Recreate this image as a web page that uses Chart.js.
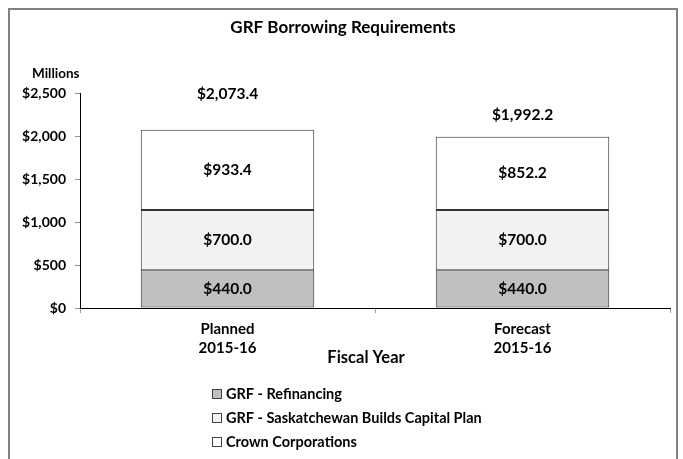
<!DOCTYPE html>
<html>
<head>
<meta charset="utf-8">
<script src="https://cdn.jsdelivr.net/npm/chart.js@4.4.0/dist/chart.umd.min.js"></script>
<style>
    html, body { margin: 0; padding: 0; background: #ffffff; overflow: hidden; }
    #frame {
        position: absolute; left: 8px; top: 8px; width: 666px; height: 470px;
        border: 2px solid #808080;
    }
    #wrap { position: absolute; left: 0; top: 0; width: 683px; height: 459px; }
</style>
</head>
<body>
<div id="frame"></div>
<div id="wrap"><canvas id="borrowChart" width="683" height="459"></canvas></div>
<script>
// Chart values (millions of dollars)
const categories = [['Planned', '2015-16'], ['Forecast', '2015-16']];
const refinancing = [440.0, 440.0];
const capitalPlan = [700.0, 700.0];
const crownCorps = [933.4, 852.2];
const totals = [2073.4, 1992.2];
const yTicks = [0, 500, 1000, 1500, 2000, 2500];

const FONT = 'Lato, "Open Sans", sans-serif';

function money(v, decimals) {
    return '$' + v.toLocaleString('en-US', { minimumFractionDigits: decimals, maximumFractionDigits: decimals });
}

// Labels, totals, titles and legend drawn on top of the chart
const labelPlugin = {
    id: 'labelPlugin',
    afterDraw(chart) {
        const ctx = chart.ctx;
        const yScale = chart.scales.y;
        ctx.save();
        ctx.fillStyle = '#000000';
        ctx.textAlign = 'center';
        ctx.textBaseline = 'middle';

        // segment labels
        ctx.font = 'bold 15.5px ' + FONT;
        chart.data.datasets.forEach((ds, di) => {
            const meta = chart.getDatasetMeta(di);
            meta.data.forEach((bar, i) => {
                const mid = (bar.y + bar.base) / 2;
                ctx.fillText(money(ds.data[i], 1), bar.x, mid);
            });
        });

        // totals above bars
        const totalOffsets = [36, 22];
        const meta0 = chart.getDatasetMeta(0);
        totals.forEach((t, i) => {
            const x = meta0.data[i].x;
            const y = yScale.getPixelForValue(t) - totalOffsets[i];
            ctx.fillText(money(t, 1), x, y);
        });

        // title
        ctx.font = 'bold 17px ' + FONT;
        ctx.fillText('GRF Borrowing Requirements', 343, 28);

        // x axis title
        ctx.font = 'bold 16.5px ' + FONT;
        ctx.fillText('Fiscal Year', 366, 358);

        // y unit
        ctx.font = 'bold 13.5px ' + FONT;
        ctx.textAlign = 'left';
        ctx.fillText('Millions', 32, 74);

        // legend
        const rows = [394, 418, 442];
        ctx.font = 'bold 14.5px ' + FONT;
        chart.data.datasets.forEach((ds, di) => {
            const y = rows[di];
            ctx.fillStyle = ds.backgroundColor;
            ctx.fillRect(212.5, y - 4.5, 9, 9);
            ctx.strokeStyle = '#404040';
            ctx.lineWidth = 1;
            ctx.strokeRect(212.5, y - 4.5, 9, 9);
            ctx.fillStyle = '#000000';
            ctx.fillText(ds.label, 226, y);
        });
        ctx.restore();
    }
};

const ctx = document.getElementById('borrowChart').getContext('2d');
new Chart(ctx, {
    type: 'bar',
    data: {
        labels: categories,
        datasets: [
            { label: 'GRF - Refinancing', data: refinancing, backgroundColor: '#c0c0c0' },
            { label: 'GRF - Saskatchewan Builds Capital Plan', data: capitalPlan, backgroundColor: '#f2f2f2' },
            { label: 'Crown Corporations', data: crownCorps, backgroundColor: '#ffffff' }
        ].map(ds => Object.assign(ds, {
            borderColor: '#333333',
            borderWidth: 1,
            borderSkipped: false,
            categoryPercentage: 1.0,
            barPercentage: 0.588
        }))
    },
    options: {
        responsive: false,
        animation: false,
        layout: { padding: { top: 93, right: 13, bottom: 90, left: 0 } },
        plugins: {
            legend: { display: false },
            title: { display: false },
            tooltip: { enabled: false }
        },
        scales: {
            x: {
                stacked: true,
                grid: { display: true, drawOnChartArea: false, drawTicks: true, tickLength: 5, color: '#a0a0a0', offset: true },
                border: { display: true, color: '#000000', width: 1 },
                ticks: { color: '#000000', font: { family: FONT, size: 15, weight: 'bold', lineHeight: 1.27 }, padding: 7 },
                afterFit(scale) { scale.height = 61; }
            },
            y: {
                stacked: true,
                min: 0,
                max: 2500,
                afterBuildTicks(scale) { scale.ticks = yTicks.map(v => ({ value: v })); },
                grid: { display: true, drawOnChartArea: false, drawTicks: true, tickLength: 5, color: '#909090' },
                border: { display: true, color: '#000000', width: 1 },
                ticks: {
                    color: '#000000',
                    padding: 9,
                    font: { family: FONT, size: 14, weight: 'bold' },
                    callback: v => money(v, 0)
                },
                afterFit(scale) { scale.width = 80; }
            }
        }
    },
    plugins: [labelPlugin]
});
</script>
</body>
</html>
